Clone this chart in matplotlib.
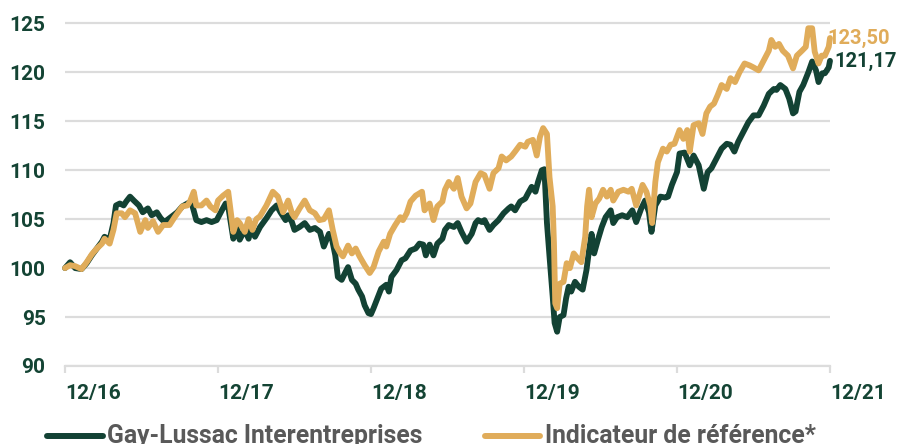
import matplotlib
matplotlib.use("Agg")
import matplotlib.pyplot as plt
from matplotlib.lines import Line2D

plt.rcParams['font.family'] = ['Roboto', 'DejaVu Sans']

# months since 12/2016, index values
fund_months = [0.0, 0.4, 0.8, 1.3, 1.7, 2.1, 2.5, 2.9, 3.1, 3.5, 3.8, 4.0, 4.3, 4.6, 4.8,
               5.1, 5.4, 5.8, 6.1, 6.5, 6.8, 7.2, 7.5, 7.8, 8.2, 8.8, 9.2, 9.6, 9.9,
               10.3, 10.7, 11.1, 11.5, 11.9, 12.3, 12.6, 12.8, 13.2, 13.5, 13.7, 14.1,
               14.4, 14.6, 14.9, 15.3, 15.8, 16.2, 16.6, 16.9, 17.3, 17.5, 17.8, 18.0,
               18.4, 18.8, 19.2, 19.6, 20.0, 20.3, 20.7, 20.9, 21.2, 21.4, 21.7, 22.0,
               22.2, 22.5, 22.8, 23.0, 23.3, 23.5, 23.8, 24.0, 24.2, 24.5, 24.8, 25.2,
               25.4, 25.6, 26.0, 26.4, 26.7, 27.1, 27.5, 27.8, 28.1, 28.3, 28.6, 28.9,
               29.2, 29.6, 29.8, 30.1, 30.5, 30.8, 31.1, 31.5, 31.9, 32.2, 32.4, 32.7,
               32.9, 33.3, 33.6, 34.0, 34.4, 34.8, 35.0, 35.3, 35.7, 36.1, 36.3, 36.6,
               36.9, 37.1, 37.4, 37.6, 37.7, 37.8, 38.0, 38.25, 38.4, 38.6, 38.8, 39.1,
               39.3, 39.5, 39.7, 40.0, 40.3, 40.6, 40.9, 41.1, 41.3, 41.5, 41.8, 42.1,
               42.4, 42.8, 43.0, 43.3, 43.7, 44.1, 44.5, 44.8, 45.2, 45.5, 45.8, 46.0,
               46.3, 46.7, 47.1, 47.3, 47.6, 48.0, 48.2, 48.6, 49.0, 49.3, 49.7, 50.1,
               50.4, 50.7, 51.1, 51.5, 51.9, 52.2, 52.5, 52.8, 53.2, 53.6, 54.0, 54.4,
               54.8, 55.2, 55.6, 55.8, 56.1, 56.5, 56.8, 57.1, 57.3, 57.6, 57.9, 58.3,
               58.6, 58.9, 59.1, 59.4, 59.6, 59.9, 60.0]
fund_values = [100.0, 100.6, 100.0, 99.9, 100.5, 101.3, 102.0, 102.7, 103.2, 102.9, 104.6,
               106.4, 106.6, 106.4, 106.8, 107.3, 106.9, 106.4, 105.7, 106.1, 105.4,
               105.7, 105.1, 104.7, 105.1, 105.7, 106.3, 106.6, 106.8, 104.9, 104.7,
               104.9, 104.7, 104.9, 105.9, 106.6, 106.3, 103.0, 104.1, 102.9, 103.9,
               103.0, 104.1, 103.2, 104.2, 105.1, 105.9, 106.4, 105.7, 104.9, 105.4,
               104.7, 103.9, 104.2, 104.6, 103.9, 104.1, 103.7, 102.2, 103.5, 103.2,
               101.3, 99.1, 98.8, 99.6, 100.1, 98.8, 98.4, 97.8, 97.1, 96.2, 95.4, 95.3,
               95.9, 96.9, 97.9, 98.3, 97.6, 99.1, 99.8, 100.8, 101.0, 101.8, 102.0,
               102.5, 102.4, 101.3, 102.4, 101.3, 102.5, 103.0, 103.9, 104.4, 104.2,
               104.6, 103.7, 102.7, 103.5, 104.6, 104.9, 104.7, 104.9, 103.9, 104.4,
               104.9, 105.6, 106.1, 106.3, 105.9, 106.8, 107.1, 107.6, 108.3, 107.8,
               108.8, 110.0, 110.1, 107.3, 104.6, 101.2, 97.1, 94.4, 93.5, 95.0, 95.2,
               96.9, 98.1, 97.6, 98.6, 98.1, 97.8, 99.8, 101.8, 103.5, 101.5, 102.9,
               104.2, 105.2, 105.9, 104.6, 105.2, 105.4, 105.2, 105.9, 104.7, 106.1,
               106.9, 105.7, 103.7, 106.4, 107.3, 107.2, 107.3, 108.5, 109.8, 111.7,
               111.8, 110.5, 111.5, 110.5, 108.1, 109.8, 110.2, 111.2, 112.2, 112.7,
               112.6, 111.9, 112.9, 113.9, 114.9, 115.6, 115.6, 116.6, 117.8, 118.3,
               118.2, 118.7, 118.3, 117.3, 115.8, 116.0, 118.0, 118.7, 120.0, 121.1,
               120.2, 119.0, 119.9, 119.9, 120.5, 121.17]

ref_months = [0.0, 0.4, 0.8, 1.3, 1.7, 2.1, 2.5, 2.9, 3.1, 3.5, 3.8, 4.05, 4.45, 4.7, 5.1,
              5.5, 5.9, 6.3, 6.5, 6.9, 7.3, 7.7, 8.2, 8.6, 9.2, 9.6, 9.8, 10.1, 10.3,
              10.7, 11.1, 11.4, 11.8, 12.0, 12.4, 12.8, 13.2, 13.5, 13.7, 14.1, 14.4,
              14.7, 15.0, 15.3, 15.8, 16.3, 16.7, 17.1, 17.5, 17.8, 18.0, 18.4, 18.8,
              19.2, 19.6, 19.95, 20.3, 20.7, 21.0, 21.3, 21.6, 21.8, 22.2, 22.5, 22.8,
              23.1, 23.5, 23.9, 24.2, 24.6, 25.0, 25.2, 25.5, 25.9, 26.3, 26.5, 26.8,
              27.1, 27.5, 28.0, 28.2, 28.6, 28.9, 29.2, 29.6, 29.8, 30.1, 30.5, 30.8,
              31.1, 31.5, 31.8, 32.2, 32.6, 32.9, 33.3, 33.6, 34.0, 34.25, 34.6, 35.0,
              35.3, 35.7, 36.1, 36.3, 36.7, 37.0, 37.25, 37.5, 37.8, 38.0, 38.25, 38.35,
              38.45, 38.6, 38.8, 39.1, 39.35, 39.6, 39.9, 40.2, 40.5, 40.8, 40.95, 41.1,
              41.3, 41.6, 41.9, 42.2, 42.5, 42.8, 43.0, 43.4, 43.8, 44.2, 44.45, 44.8,
              45.3, 45.6, 45.9, 46.05, 46.3, 46.5, 46.9, 47.2, 47.5, 47.8, 48.2, 48.5,
              48.8, 49.0, 49.3, 49.7, 50.0, 50.3, 50.6, 50.9, 51.2, 51.5, 51.9, 52.2,
              52.55, 52.9, 53.3, 53.7, 54.0, 54.4, 54.8, 55.2, 55.4, 55.7, 56.0, 56.3,
              56.7, 57.1, 57.4, 57.8, 58.1, 58.3, 58.6, 58.8, 59.1, 59.35, 59.6, 59.9,
              60.0]
ref_values = [100.0, 100.3, 100.2, 99.9, 100.6, 101.4, 102.0, 102.5, 103.0, 102.5, 103.9,
              105.6, 105.6, 105.2, 105.9, 105.6, 103.7, 104.9, 104.1, 104.8, 103.7,
              104.4, 104.4, 105.2, 106.3, 106.4, 106.8, 107.8, 106.4, 106.4, 106.9,
              106.3, 105.9, 106.9, 107.4, 107.8, 103.7, 104.9, 104.6, 103.7, 105.0,
              103.9, 105.0, 105.3, 106.4, 107.8, 107.3, 105.7, 106.9, 105.6, 105.2,
              106.1, 106.9, 105.9, 105.6, 104.9, 105.0, 105.9, 103.9, 102.2, 101.5,
              101.2, 102.3, 101.5, 102.0, 101.2, 100.3, 99.5, 100.1, 101.7, 102.7,
              102.2, 103.5, 104.4, 105.2, 104.9, 105.6, 106.8, 107.4, 107.8, 105.9,
              106.6, 104.9, 106.3, 106.8, 108.0, 108.8, 108.1, 109.2, 107.3, 106.1,
              106.6, 108.8, 109.7, 109.5, 108.1, 109.7, 110.2, 111.4, 111.0, 111.4,
              111.9, 112.6, 112.4, 112.9, 113.1, 111.5, 113.4, 114.3, 113.7, 109.3,
              106.3, 102.5, 96.4, 95.9, 98.4, 98.6, 100.5, 100.0, 101.5, 101.0, 100.6,
              103.2, 106.3, 108.0, 105.2, 106.6, 107.1, 108.0, 107.3, 108.0, 106.9,
              107.8, 108.0, 107.8, 108.1, 106.4, 108.5, 107.8, 106.4, 104.6, 108.8,
              110.8, 112.2, 111.9, 112.6, 112.7, 114.1, 113.2, 114.1, 111.9, 114.6,
              114.8, 113.7, 115.8, 116.5, 116.8, 117.7, 118.7, 118.3, 119.4, 119.0,
              120.0, 120.9, 120.7, 120.5, 120.2, 121.2, 122.2, 123.3, 122.6, 122.9,
              122.2, 121.7, 120.4, 121.7, 122.2, 122.6, 124.5, 124.5, 122.1, 120.9,
              121.7, 121.7, 122.6, 123.5]

tick_months = [0, 12, 24, 36, 48, 60]
tick_labels = ['12/16', '12/17', '12/18', '12/19', '12/20', '12/21']
y_ticks = [90, 95, 100, 105, 110, 115, 120, 125]

fund_name = 'Gay-Lussac Interentreprises'
ref_name = 'Indicateur de référence*'

GREEN = '#134234'
GOLD = '#e0ac5a'
GRID = '#dcdcdc'
TXT = '#144434'

W, H = 897, 444
fig = plt.figure(figsize=(W / 100, H / 100), dpi=100)
ax = fig.add_axes([65 / W, 78 / H, 765 / W, 345.6 / H])

ax.plot(fund_months, fund_values, color=GREEN, lw=4.2, solid_joinstyle='round',
        solid_capstyle='round', clip_on=False, zorder=3)
ax.plot(ref_months, ref_values, color=GOLD, lw=4.2, solid_joinstyle='round',
        solid_capstyle='round', clip_on=False, zorder=4)

ax.set_xlim(0, 60)
ax.set_ylim(90, 125.3)
ax.set_yticks(y_ticks)
ax.set_yticklabels([str(v) for v in y_ticks])
ax.set_xticks(tick_months)
ax.set_xticklabels(tick_labels)
for lab in ax.get_xticklabels():
    lab.set_ha('left')

ax.set_axisbelow(True)
ax.yaxis.grid(True, color=GRID, lw=1.6)
for s in ['top', 'right', 'left']:
    ax.spines[s].set_visible(False)
ax.spines['bottom'].set_color(GRID)
ax.spines['bottom'].set_linewidth(1.6)

ax.tick_params(axis='y', length=0, pad=14, labelsize=15, labelcolor=TXT)
ax.tick_params(axis='x', length=5, width=1.6, color=GRID, pad=8, labelsize=15,
               labelcolor=TXT)
for lab in ax.get_xticklabels() + ax.get_yticklabels():
    lab.set_fontweight('bold')

# end values
ax.annotate('{:.2f}'.format(ref_values[-1]).replace('.', ','), (ref_months[-1], ref_values[-1]),
            xytext=(-2, 0), textcoords='offset points', ha='left', va='center',
            fontsize=14.5, fontweight='bold', color=GOLD, zorder=5, annotation_clip=False)
ax.annotate('{:.2f}'.format(fund_values[-1]).replace('.', ','), (fund_months[-1], fund_values[-1]),
            xytext=(3, -0.5), textcoords='offset points', ha='left', va='center',
            fontsize=14.5, fontweight='bold', color=GREEN, zorder=5, annotation_clip=False)

# legend drawn by hand along the bottom edge
leg_y = (H - 436) / H
for x0, x1, tx, col, name in [(47, 103, 107, GREEN, fund_name), (485, 540, 545, GOLD, ref_name)]:
    fig.add_artist(Line2D([x0 / W, x1 / W], [leg_y, leg_y], color=col, lw=4.3,
                          solid_capstyle='round', transform=fig.transFigure))
    fig.text(tx / W, 1 / H, name, ha='left', va='baseline', fontsize=17.8,
             fontweight='bold', color='#595959')

fig.savefig('out.png', dpi=100)
